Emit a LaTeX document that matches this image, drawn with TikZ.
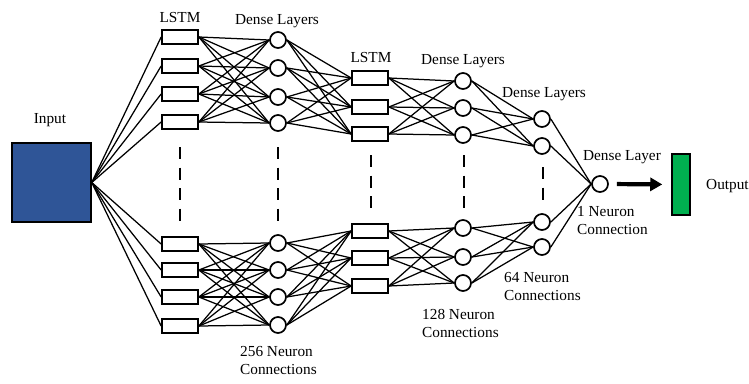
\documentclass[tikz,border=0pt]{standalone}
\usepackage{fontspec}
\setmainfont{Liberation Serif}
\usetikzlibrary{arrows.meta}
\definecolor{inblue}{RGB}{47,85,151}
\definecolor{outgreen}{RGB}{0,176,80}
\begin{document}
\begin{tikzpicture}[x=1pt,y=-1pt,
  lstm/.style={draw,line width=1.7pt,minimum width=36pt,minimum height=14pt,inner sep=0pt},
  neuron/.style={circle,draw,line width=1.7pt,minimum size=16pt,inner sep=0pt},
  conn/.style={line width=1.25pt},
  dotline/.style={line width=2.5pt,dash pattern=on 12pt off 8.5pt},
  lbl/.style={font=\fontsize{15.3}{18}\selectfont,inner sep=0pt},
  note/.style={lbl,align=left,anchor=north west}]
\useasboundingbox (0,0) rectangle (749,383);

% input and output
\node[draw,fill=inblue,line width=1.5pt,minimum width=79pt,minimum height=79pt,inner sep=0pt] (in) at (51.5,182.5) {};
\node[lbl] (inl) at (50,120) {Input};
\node[draw,fill=outgreen,line width=1.5pt,minimum width=18pt,minimum height=61pt,inner sep=0pt] (out) at (681,184.5) {};
\node[lbl,anchor=west] (outl) at (706,186) {Output};

% layers
\foreach \y [count=\i] in {37,66,94,122,244,270,297,326}
  \node[lstm] (a\i) at (180,\y) {};
\foreach \y [count=\i] in {40,68,97,123,243,270,297,325}
  \node[neuron] (b\i) at (278,\y) {};
\foreach \y [count=\i] in {78,107,134,231,258,286}
  \node[lstm] (c\i) at (370,\y) {};
\foreach \y [count=\i] in {81,108,135,228,257,283}
  \node[neuron] (d\i) at (463,\y) {};
\foreach \y [count=\i] in {119,146,222,247}
  \node[neuron] (e\i) at (542,\y) {};
\node[neuron] (f) at (600,184) {};

% labels
\node[lbl] (l1) at (180,18) {LSTM};
\node[lbl] (l2) at (277,21) {Dense Layers};
\node[lbl] (l3) at (371,58) {LSTM};
\node[lbl] (l4) at (463,61) {Dense Layers};
\node[lbl] (l5) at (544,94) {Dense Layers};
\node[lbl] (l6) at (622,157) {Dense Layer};
\node[note] (n1) at (577,206) {1 Neuron\\Connection};
\node[note] (n2) at (504,272) {64 Neuron\\Connections};
\node[note] (n3) at (422,309) {128 Neuron\\Connections};
\node[note] (n4) at (240,346) {256 Neuron\\Connections};

% connections
\foreach \i in {1,...,8} \draw[conn] (in.east) -- (a\i.west);
\foreach \i in {1,...,4} \foreach \j in {1,...,4} \draw[conn] (a\i.east) -- (b\j.west);
\foreach \i in {5,...,8} \foreach \j in {5,...,8} \draw[conn] (a\i.east) -- (b\j.west);
\foreach \i in {1,...,4} \foreach \j in {1,...,3} \draw[conn] (b\i.east) -- (c\j.west);
\foreach \i in {5,...,8} \foreach \j in {4,...,6} \draw[conn] (b\i.east) -- (c\j.west);
\foreach \i in {1,...,3} \foreach \j in {1,...,3} \draw[conn] (c\i.east) -- (d\j.west);
\foreach \i in {4,...,6} \foreach \j in {4,...,6} \draw[conn] (c\i.east) -- (d\j.west);
\foreach \i in {1,...,3} \foreach \j in {1,2} \draw[conn] (d\i.east) -- (e\j.west);
\foreach \i in {4,...,6} \foreach \j in {3,4} \draw[conn] (d\i.east) -- (e\j.west);
\foreach \i in {1,...,4} \draw[conn] (e\i.east) -- (f.west);

% ellipsis dashes
\draw[dotline] (180,147) -- (180,221);
\draw[dotline] (278,147) -- (278,221);
\draw[dotline] (371,155) -- (371,210);
\draw[dotline] (464,155) -- (464,210);
\draw[dotline] (543,167) -- (543,200);

% output arrow
\draw[line width=4.2pt,-{Triangle[length=12pt,width=13pt]},shorten <=8pt,shorten >=9pt] (f.east) -- (out.west);
\end{tikzpicture}
\end{document}
